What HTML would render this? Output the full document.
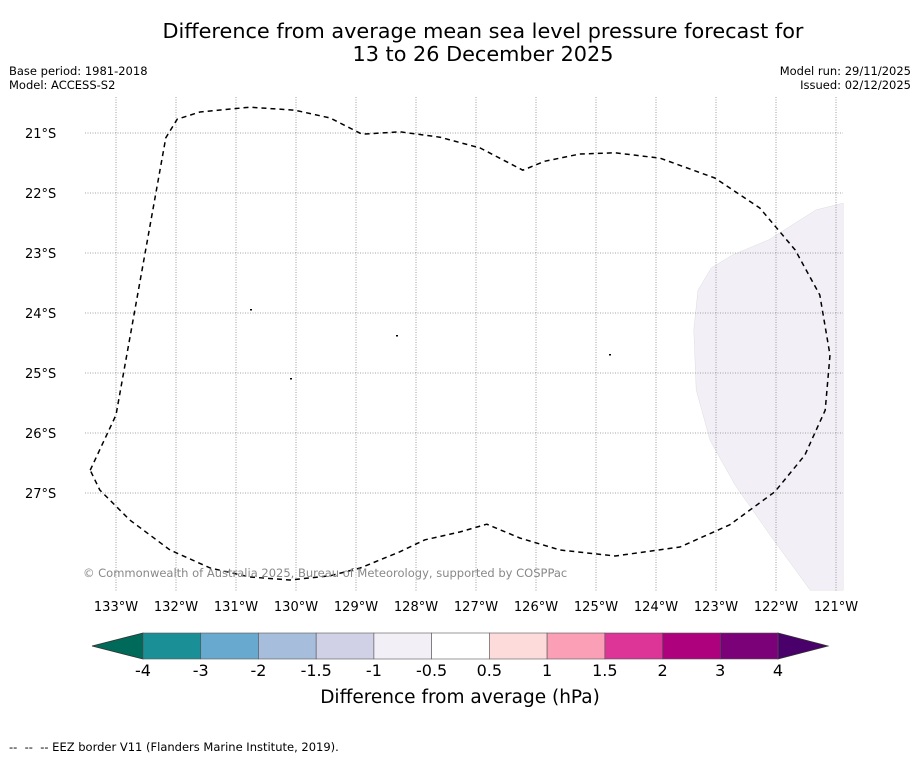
<!DOCTYPE html>
<html><head><meta charset="utf-8">
<style>
body{margin:0;background:#fff;font-family:"DejaVu Sans","Liberation Sans",sans-serif;}
svg{display:block}
</style></head>
<body>
<svg id="c" width="919" height="758" xmlns="http://www.w3.org/2000/svg">
<text x="483" y="38" font-size="20.8" text-anchor="middle">Difference from average mean sea level pressure forecast for</text>
<text x="483" y="61" font-size="20.8" text-anchor="middle">13 to 26 December 2025</text>
<text x="9" y="75" font-size="11.5">Base period: 1981-2018</text>
<text x="9" y="89" font-size="11.5">Model: ACCESS-S2</text>
<text x="911" y="75" font-size="11.5" text-anchor="end">Model run: 29/11/2025</text>
<text x="911" y="89" font-size="11.5" text-anchor="end">Issued: 02/12/2025</text>
<g id="map"></g>
<text x="83" y="577" font-size="11.5" fill="#888">© Commonwealth of Australia 2025, Bureau of Meteorology, supported by COSPPac</text>
<g id="cbar"></g>
<text x="460" y="703" font-size="18.5" text-anchor="middle">Difference from average (hPa)</text>
<text x="9" y="751" font-size="11.5">-- &#160;-- &#160;-- EEZ border V11 (Flanders Marine Institute, 2019).</text>
</svg>
<script>
const lonTicks=[-133,-132,-131,-130,-129,-128,-127,-126,-125,-124,-123,-122,-121];
const latTicks=[-21,-22,-23,-24,-25,-26,-27];
const levelLabels=["-4","-3","-2","-1.5","-1","-0.5","0.5","1","1.5","2","3","4"];
const levelColors=["#1a8f96","#67a9cf","#a6bddb","#d0d1e6","#f2eff6","#ffffff","#fddbdb","#fa9fb5","#dd3497","#ae017e","#7a0177"];
const underColor="#006a5a", overColor="#49006a";
const anomalyLon=[-120.88,-121.33,-122.12,-122.72,-123.08,-123.3,-123.37,-123.33,-123.1,-122.68,-122.1,-121.43,-120.88];
const anomalyLat=[-22.17,-22.28,-22.78,-23.03,-23.25,-23.62,-24.28,-25.28,-26.12,-26.87,-27.7,-28.62,-28.62];
const eezLon=[-133.43,-133,-132.17,-131.98,-131.6,-130.77,-130.02,-129.43,-128.9,-128.27,-127.6,-126.93,-126.22,-125.85,-125.27,-124.68,-123.93,-123.02,-122.27,-121.68,-121.27,-121.1,-121.18,-121.52,-122.02,-122.77,-123.6,-124.68,-125.6,-126.27,-126.82,-127.27,-127.85,-128.27,-128.93,-129.43,-130.1,-130.77,-131.43,-132.1,-132.77,-133.27,-133.43];
const eezLat=[-26.62,-25.7,-21.08,-20.77,-20.65,-20.57,-20.62,-20.75,-21.02,-20.98,-21.07,-21.25,-21.62,-21.47,-21.35,-21.33,-21.42,-21.75,-22.25,-22.95,-23.7,-24.7,-25.62,-26.37,-26.98,-27.53,-27.9,-28.05,-27.95,-27.75,-27.52,-27.65,-27.78,-27.98,-28.25,-28.38,-28.45,-28.4,-28.25,-27.95,-27.45,-26.95,-26.62];
const NS="http://www.w3.org/2000/svg";
const X=lon=>116+(lon+133)*60, Y=lat=>133+(-21-lat)*60;
const map=document.getElementById('map');
function mk(tag,attrs,parent){const e=document.createElementNS(NS,tag);for(const k in attrs)e.setAttribute(k,attrs[k]);parent.appendChild(e);return e;}
const poly=mk('polygon',{points:anomalyLon.map((l,i)=>X(l)+','+Y(anomalyLat[i])).join(' '),fill:'#f2eff6',stroke:'#ddd','stroke-width':0.5},map);


lonTicks.forEach(l=>{
  const g=mk('line',{x1:X(l),x2:X(l),y1:97,y2:591,stroke:'#888','stroke-width':0.8,'stroke-dasharray':'1,1.5'},map);
  
  
  const t=mk('text',{x:X(l),y:611,'font-size':13,'text-anchor':'middle'},map);
  t.textContent=Math.abs(l)+'°W';
  
  
});
latTicks.forEach(l=>{
  const g=mk('line',{x1:85,x2:843,y1:Y(l),y2:Y(l),stroke:'#888','stroke-width':0.8,'stroke-dasharray':'1,1.5'},map);
  
  
  const t=mk('text',{x:25,y:Y(l)+5,'font-size':13},map);
  t.textContent=Math.abs(l)+'°S';
  
  
});
const eez=mk('polyline',{points:eezLon.map((l,i)=>X(l)+','+Y(eezLat[i])).join(' '),fill:'none',stroke:'#000','stroke-width':1.5,'stroke-dasharray':'5,4','stroke-linejoin':'round'},map);


[[250,309],[396,335],[290,378],[609,354]].forEach(p=>{
  const d=mk('rect',{x:p[0],y:p[1],width:2,height:1.5,fill:'#000'},map);
  
  
});
const cb=document.getElementById('cbar');
const x0=143,x1=778,y0=633,h=26,n=levelColors.length,w=(x1-x0)/n;
const u=mk('polygon',{points:`${x0},${y0} 92,${y0+h/2} ${x0},${y0+h}`,fill:underColor,stroke:'#333','stroke-width':0.8},cb);


const o=mk('polygon',{points:`${x1},${y0} 828,${y0+h/2} ${x1},${y0+h}`,fill:overColor,stroke:'#333','stroke-width':0.8},cb);


levelColors.forEach((c,i)=>{
  const r=mk('rect',{x:x0+i*w,y:y0,width:w,height:h,fill:c,stroke:'#555','stroke-width':0.6},cb);
  
  
});
levelLabels.forEach((s,i)=>{
  const t=mk('text',{x:x0+i*w,y:676,'font-size':16,'text-anchor':'middle'},cb);
  t.textContent=s;
  
  
});
</script>
</body></html>
